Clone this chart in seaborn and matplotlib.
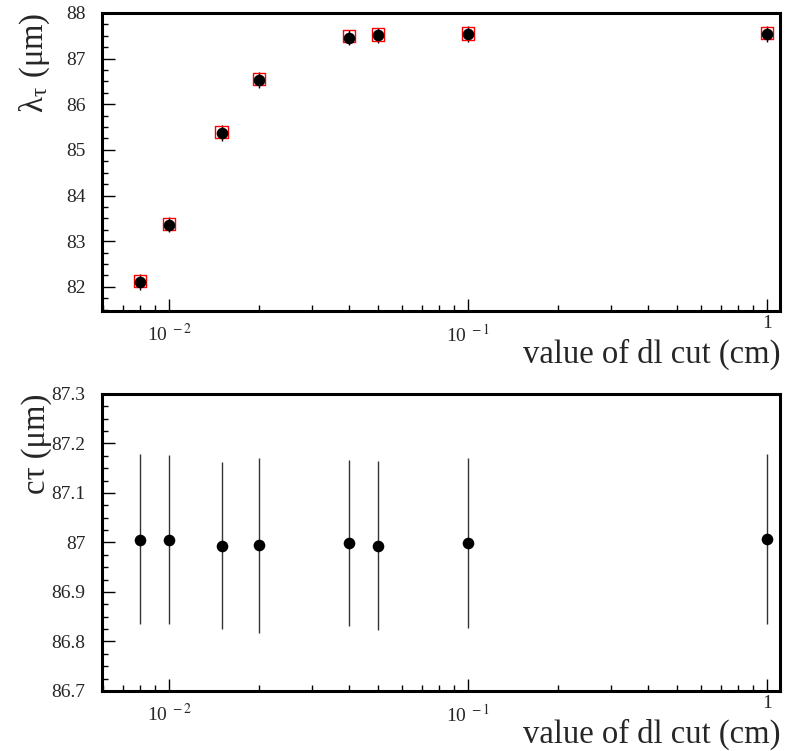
import numpy as np
import pandas as pd
import matplotlib
matplotlib.use("Agg")
import matplotlib.pyplot as plt
import matplotlib.transforms as mtransforms
import seaborn as sns
from matplotlib.ticker import FixedLocator, FixedFormatter, MultipleLocator, LogLocator, NullFormatter

# ---------------- data ----------------
cuts = [0.008, 0.01, 0.015, 0.02, 0.04, 0.05, 0.1, 1.0]
lam_fit = [82.11, 83.36, 85.37, 86.53, 87.46, 87.51, 87.54, 87.54]
lam_err = [0.17, 0.17, 0.17, 0.17, 0.17, 0.17, 0.17, 0.17]
lam_ref = [82.13, 83.38, 85.39, 86.55, 87.49, 87.53, 87.55, 87.56]
ctau = [87.006, 87.006, 86.993, 86.994, 86.998, 86.993, 86.998, 87.008]
ctau_lo = [86.835, 86.835, 86.825, 86.817, 86.831, 86.823, 86.827, 86.835]
ctau_hi = [87.179, 87.176, 87.162, 87.170, 87.167, 87.164, 87.170, 87.179]
xtick_vals = [0.01, 0.1, 1.0]
xtick_labels = ["10$^{\\ -2}$", "10$^{\\ -1}$", "1"]
ytick_bottom = [86.7, 86.8, 86.9, 87.0, 87.1, 87.2, 87.3]
ytick_bottom_labels = ["86.7", "86.8", "86.9", "87", "87.1", "87.2", "87.3"]

df = pd.DataFrame({"cut": cuts, "lam_fit": lam_fit, "lam_ref": lam_ref,
                   "ctau": ctau, "lo": ctau_lo, "hi": ctau_hi, "lerr": lam_err})

sns.set_style("ticks")
plt.rcParams["font.family"] = ["Liberation Serif", "DejaVu Serif"]
plt.rcParams["mathtext.fontset"] = "stix"

fig = plt.figure(figsize=(7.85, 7.51), dpi=100)
ax1 = fig.add_axes([0.130, 0.5859, 0.8637, 0.3968])
ax2 = fig.add_axes([0.130, 0.0799, 0.8637, 0.3955])

# top panel
ax1.errorbar(df["cut"], df["lam_fit"], yerr=df["lerr"], fmt="none",
             ecolor="black", elinewidth=1.0, zorder=2)
sns.scatterplot(data=df, x="cut", y="lam_ref", ax=ax1, marker="s", s=80,
                facecolor="none", edgecolor="red", linewidth=1.0, zorder=3)
sns.scatterplot(data=df, x="cut", y="lam_fit", ax=ax1, marker="o", s=70,
                color="black", edgecolor="black", linewidth=0, zorder=4)
ax1.set_ylim(81.47, 88.0)
ax1.yaxis.set_major_locator(MultipleLocator(1))
ax1.yaxis.set_minor_locator(MultipleLocator(0.25))

# bottom panel
yerr = [np.array(ctau) - np.array(ctau_lo), np.array(ctau_hi) - np.array(ctau)]
ax2.errorbar(df["cut"], df["ctau"], yerr=yerr, fmt="none",
             ecolor="#333333", elinewidth=1.0, zorder=2)
sns.scatterplot(data=df, x="cut", y="ctau", ax=ax2, marker="o", s=70,
                color="black", edgecolor="black", linewidth=0, zorder=4)
ax2.set_ylim(86.7, 87.3)
ax2.yaxis.set_major_locator(FixedLocator(ytick_bottom))
ax2.yaxis.set_major_formatter(FixedFormatter(ytick_bottom_labels))
ax2.yaxis.set_minor_locator(MultipleLocator(0.025))

for ax in (ax1, ax2):
    ax.set_xscale("log")
    ax.set_xlim(0.00597, 1.105)
    ax.xaxis.set_major_locator(FixedLocator(xtick_vals))
    ax.xaxis.set_major_formatter(FixedFormatter(xtick_labels))
    ax.xaxis.set_minor_locator(LogLocator(base=10, subs=np.arange(2, 10)))
    ax.xaxis.set_minor_formatter(NullFormatter())
    ax.tick_params(axis="both", which="major", direction="in", length=9,
                   width=1.0, labelsize=14, top=False, right=False, color="black")
    ax.tick_params(axis="both", which="minor", direction="in", length=4.5,
                   width=1.0, top=False, right=False, color="black")
    ax.tick_params(axis="x", which="major", pad=9)
    ax.tick_params(axis="y", which="major", pad=12)
    for sp in ax.spines.values():
        sp.set_visible(True)
        sp.set_linewidth(2.2)
        sp.set_color("black")
    ax.set_xlabel("value of dl cut (cm)", fontsize=23.5, loc="right", labelpad=-5)
    ax.set_facecolor("white")

ax1.set_ylabel("λ$_{\\mathregular{τ}}$ (μm)", fontsize=23.5, loc="top")
ax2.set_ylabel("cτ (μm)", fontsize=23.5, loc="top")
ax1.yaxis.set_label_coords(-0.074, 1.0)
ax2.yaxis.set_label_coords(-0.074, 1.0)

# raise the plain "1" label (ROOT places it level with the exponents)
fig.canvas.draw()
shift = mtransforms.ScaledTranslation(0, 7 / 72.0 * 72 / 100.0 * 100 / 72.0 * 72 / 100, fig.dpi_scale_trans)
for ax in (ax1, ax2):
    lbl = ax.get_xticklabels()[-1]
    lbl.set_transform(lbl.get_transform() + mtransforms.ScaledTranslation(0, 0.08, fig.dpi_scale_trans))

fig.savefig("out.png", dpi=100, facecolor="white")
